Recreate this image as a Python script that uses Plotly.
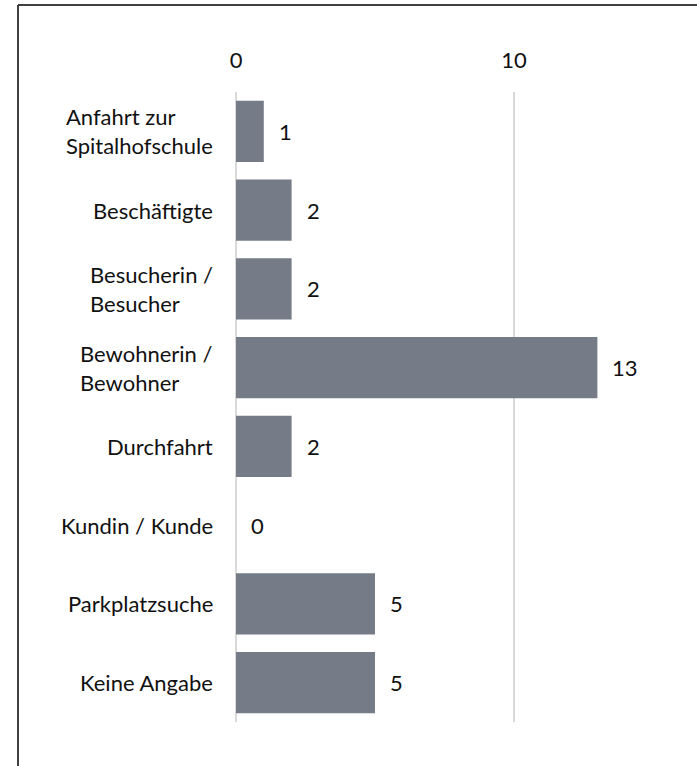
import plotly.graph_objects as go

categories = [
    "Anfahrt zur<br>Spitalhofschule",
    "Beschäftigte",
    "Besucherin /<br>Besucher",
    "Bewohnerin /<br>Bewohner",
    "Durchfahrt",
    "Kundin / Kunde",
    "Parkplatzsuche",
    "Keine Angabe",
]
values = [1, 2, 2, 13, 2, 0, 5, 5]
tick_vals = [0, 10]
tick_text = ["0", "10"]

W, H = 697, 766
L, R, T, B = 236, 44, 92, 44
pw = W - L - R
ph = H - T - B

FONT = "Lato"
FS = 22
BAR = "#757C87"
TXT = "#111111"

fig = go.Figure()
fig.add_trace(go.Bar(
    x=values, y=categories, orientation="h",
    marker=dict(color=BAR, line=dict(width=0)),
    hoverinfo="x+y",
))


def px2x(px):
    return (px - L) / pw


def py2y(py):
    return (H - B - py) / ph


annotations = []
for c, v in zip(categories, values):
    annotations.append(dict(
        x=v, y=c, xref="x", yref="y", text=str(v), showarrow=False,
        xanchor="left", yanchor="middle", xshift=13,
        font=dict(family=FONT, size=FS, color=TXT),
    ))
    annotations.append(dict(
        x=px2x(215), y=c, xref="paper", yref="y", text=c, showarrow=False,
        xanchor="right", yanchor="middle", align="left",
        font=dict(family=FONT, size=FS, color=TXT),
    ))

shapes = [
    dict(type="line", xref="paper", yref="paper",
         x0=px2x(18), x1=px2x(700), y0=py2y(5), y1=py2y(5),
         line=dict(color="#404040", width=2)),
    dict(type="line", xref="paper", yref="paper",
         x0=px2x(18), x1=px2x(18), y0=py2y(5), y1=py2y(770),
         line=dict(color="#404040", width=2)),
]

fig.update_layout(
    width=W, height=H,
    margin=dict(l=L, r=R, t=T, b=B),
    paper_bgcolor="white", plot_bgcolor="white",
    bargap=0.225,
    showlegend=False,
    font=dict(family=FONT, size=FS, color=TXT),
    xaxis=dict(
        side="top", range=[0, 15], tickvals=tick_vals, ticktext=tick_text,
        showgrid=True, gridcolor="#D9D9D9", gridwidth=1.5,
        zeroline=True, zerolinecolor="#D9D9D9", zerolinewidth=1.5,
        showline=False,
        ticks="outside", ticklen=14, tickcolor="rgba(0,0,0,0)",
        tickfont=dict(family=FONT, size=FS, color=TXT),
    ),
    yaxis=dict(
        type="category", autorange="reversed", showticklabels=False,
        showgrid=False, zeroline=False, showline=False,
    ),
    annotations=annotations,
    shapes=shapes,
)

fig.write_html(
    "out.html",
    config={"displayModeBar": False},
    post_script="document.body.style.margin='0';",
)
